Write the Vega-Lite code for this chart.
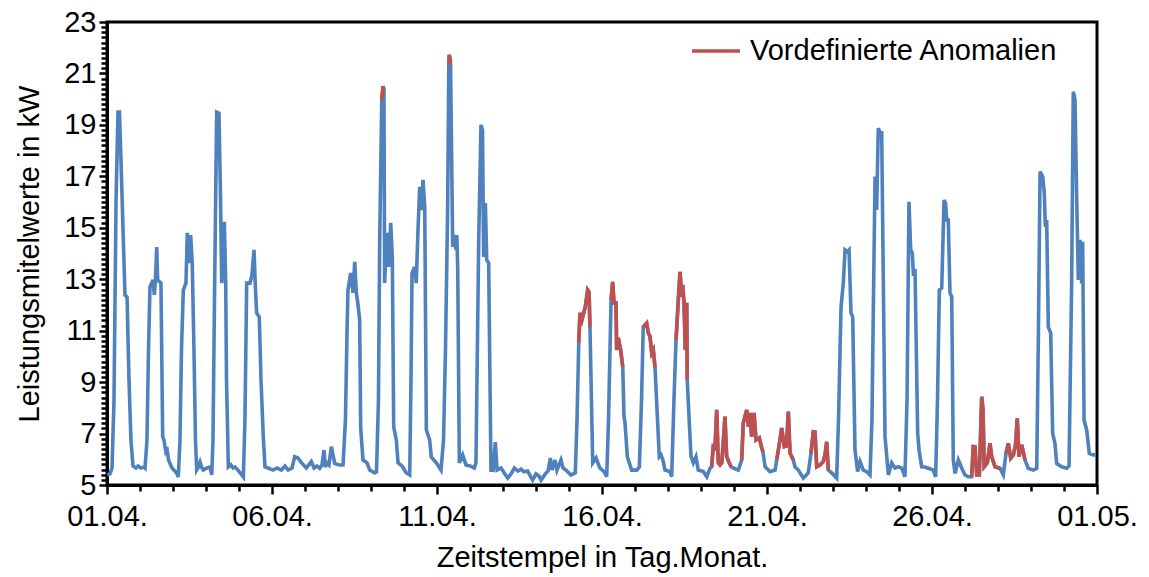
{
  "$schema": "https://vega.github.io/schema/vega-lite/v6.json",
  "width": 990,
  "height": 463,
  "autosize": "none",
  "padding": {"left": 107, "top": 22, "right": 52, "bottom": 92},
  "background": "white",
  "config": {"font": "Liberation Sans", "view": {"stroke": "black", "strokeWidth": 3}},
  "datasets": {
    "power": [
      {"t":"2021-04-01T00:15","p":5.39},{"t":"2021-04-01T02:10","p":5.43},{"t":"2021-04-01T03:40","p":5.66},{"t":"2021-04-01T05:05","p":8.30},{"t":"2021-04-01T06:35","p":16.08},{"t":"2021-04-01T08:00","p":19.50},{"t":"2021-04-01T09:05","p":19.50},{"t":"2021-04-01T10:10","p":17.64},{"t":"2021-04-01T11:40","p":14.91},{"t":"2021-04-01T13:05","p":12.39},{"t":"2021-04-01T14:35","p":12.31},{"t":"2021-04-01T16:00","p":9.08},{"t":"2021-04-01T17:25","p":6.75},{"t":"2021-04-01T18:55","p":5.74},{"t":"2021-04-01T21:05","p":5.66},{"t":"2021-04-01T22:35","p":5.74},
      {"t":"2021-04-02T00:45","p":5.66},{"t":"2021-04-02T02:55","p":5.70},{"t":"2021-04-02T03:40","p":5.66},{"t":"2021-04-02T05:05","p":6.75},{"t":"2021-04-02T06:10","p":10.25},{"t":"2021-04-02T07:15","p":12.70},{"t":"2021-04-02T09:25","p":12.97},{"t":"2021-04-02T10:25","p":12.39},{"t":"2021-04-02T11:15","p":12.97},{"t":"2021-04-02T12:10","p":14.25},{"t":"2021-04-02T12:50","p":12.97},{"t":"2021-04-02T15:15","p":12.85},{"t":"2021-04-02T16:30","p":6.87},{"t":"2021-04-02T17:25","p":6.75},{"t":"2021-04-02T18:35","p":6.36},{"t":"2021-04-02T19:25","p":6.48},{"t":"2021-04-02T20:45","p":5.97},{"t":"2021-04-02T23:15","p":5.66},
      {"t":"2021-04-03T02:40","p":5.47},{"t":"2021-04-03T03:50","p":5.31},{"t":"2021-04-03T05:05","p":6.75},{"t":"2021-04-03T06:10","p":10.25},{"t":"2021-04-03T07:30","p":12.58},{"t":"2021-04-03T09:25","p":12.85},{"t":"2021-04-03T10:25","p":14.80},{"t":"2021-04-03T11:15","p":13.75},{"t":"2021-04-03T11:50","p":13.63},{"t":"2021-04-03T12:50","p":14.72},{"t":"2021-04-03T14:00","p":13.63},{"t":"2021-04-03T15:15","p":10.25},{"t":"2021-04-03T16:20","p":6.75},{"t":"2021-04-03T17:15","p":5.58},{"t":"2021-04-03T18:10","p":5.66},{"t":"2021-04-03T19:40","p":5.89},{"t":"2021-04-03T20:45","p":5.70},{"t":"2021-04-03T22:00","p":5.58},
      {"t":"2021-04-04T00:45","p":5.66},{"t":"2021-04-04T02:55","p":5.70},{"t":"2021-04-04T04:10","p":5.39},{"t":"2021-04-04T05:05","p":6.75},{"t":"2021-04-04T06:10","p":12.19},{"t":"2021-04-04T07:45","p":19.50},{"t":"2021-04-04T09:25","p":19.46},{"t":"2021-04-04T10:35","p":16.08},{"t":"2021-04-04T11:25","p":12.85},{"t":"2021-04-04T12:20","p":13.36},{"t":"2021-04-04T13:20","p":15.23},{"t":"2021-04-04T14:20","p":12.85},{"t":"2021-04-04T14:55","p":9.08},{"t":"2021-04-04T16:15","p":5.70},{"t":"2021-04-04T18:10","p":5.78},{"t":"2021-04-04T19:40","p":5.66},{"t":"2021-04-04T21:05","p":5.70},{"t":"2021-04-04T23:15","p":5.58},
      {"t":"2021-04-05T01:25","p":5.43},{"t":"2021-04-05T03:10","p":5.31},{"t":"2021-04-05T04:20","p":7.53},{"t":"2021-04-05T05:35","p":12.85},{"t":"2021-04-05T08:00","p":12.85},{"t":"2021-04-05T09:25","p":13.16},{"t":"2021-04-05T10:55","p":14.14},{"t":"2021-04-05T12:00","p":12.58},{"t":"2021-04-05T12:50","p":11.69},{"t":"2021-04-05T14:45","p":11.53},{"t":"2021-04-05T16:00","p":9.08},{"t":"2021-04-05T17:40","p":6.87},{"t":"2021-04-05T18:55","p":5.70},{"t":"2021-04-05T21:05","p":5.66},
      {"t":"2021-04-06T00:45","p":5.58},{"t":"2021-04-06T03:40","p":5.66},{"t":"2021-04-06T06:45","p":5.58},{"t":"2021-04-06T09:25","p":5.74},{"t":"2021-04-06T11:40","p":5.58},{"t":"2021-04-06T14:35","p":5.66},{"t":"2021-04-06T16:30","p":6.10},{"t":"2021-04-06T18:55","p":6.05},{"t":"2021-04-06T21:05","p":5.89},
      {"t":"2021-04-07T00:55","p":5.66},{"t":"2021-04-07T04:35","p":5.91},{"t":"2021-04-07T06:35","p":5.66},{"t":"2021-04-07T08:45","p":5.74},{"t":"2021-04-07T10:40","p":5.65},{"t":"2021-04-07T12:20","p":5.78},{"t":"2021-04-07T13:50","p":6.36},{"t":"2021-04-07T14:45","p":5.70},{"t":"2021-04-07T16:00","p":5.86},{"t":"2021-04-07T17:25","p":5.78},{"t":"2021-04-07T19:10","p":6.49},{"t":"2021-04-07T21:35","p":5.84},
      {"t":"2021-04-08T00:45","p":5.78},{"t":"2021-04-08T03:40","p":5.78},{"t":"2021-04-08T05:25","p":7.53},{"t":"2021-04-08T06:35","p":11.03},{"t":"2021-04-08T07:15","p":12.58},{"t":"2021-04-08T09:15","p":13.24},{"t":"2021-04-08T10:55","p":12.47},{"t":"2021-04-08T12:10","p":13.68},{"t":"2021-04-08T13:20","p":12.47},{"t":"2021-04-08T14:35","p":12.00},{"t":"2021-04-08T15:45","p":11.42},{"t":"2021-04-08T16:30","p":7.22},{"t":"2021-04-08T18:10","p":5.97},{"t":"2021-04-08T21:05","p":5.86},{"t":"2021-04-08T23:05","p":5.58},
      {"t":"2021-04-09T02:40","p":5.47},{"t":"2021-04-09T04:00","p":5.51},{"t":"2021-04-09T05:25","p":8.30},{"t":"2021-04-09T06:20","p":14.53},{"t":"2021-04-09T07:50","p":19.97},{"t":"2021-04-09T08:45","p":20.51},{"t":"2021-04-09T09:25","p":20.36},{"t":"2021-04-09T09:55","p":12.85},{"t":"2021-04-09T11:25","p":14.80},{"t":"2021-04-09T12:50","p":13.48},{"t":"2021-04-09T14:20","p":15.19},{"t":"2021-04-09T15:30","p":13.86},{"t":"2021-04-09T16:30","p":7.26},{"t":"2021-04-09T18:25","p":6.75},{"t":"2021-04-09T19:40","p":5.86},{"t":"2021-04-09T22:35","p":5.74},
      {"t":"2021-04-10T01:40","p":5.47},{"t":"2021-04-10T04:10","p":5.39},{"t":"2021-04-10T05:05","p":9.08},{"t":"2021-04-10T05:50","p":13.24},{"t":"2021-04-10T07:45","p":13.48},{"t":"2021-04-10T08:55","p":12.85},{"t":"2021-04-10T10:10","p":14.91},{"t":"2021-04-10T11:25","p":16.59},{"t":"2021-04-10T12:35","p":15.69},{"t":"2021-04-10T13:50","p":16.86},{"t":"2021-04-10T15:05","p":15.81},{"t":"2021-04-10T16:15","p":7.14},{"t":"2021-04-10T18:40","p":6.75},{"t":"2021-04-10T19:50","p":6.09},{"t":"2021-04-10T23:30","p":5.86},
      {"t":"2021-04-11T02:55","p":5.58},{"t":"2021-04-11T04:45","p":6.75},{"t":"2021-04-11T06:10","p":10.25},{"t":"2021-04-11T07:45","p":15.81},{"t":"2021-04-11T08:35","p":21.33},{"t":"2021-04-11T08:55","p":21.72},{"t":"2021-04-11T09:50","p":21.45},{"t":"2021-04-11T10:35","p":18.02},{"t":"2021-04-11T11:25","p":14.25},{"t":"2021-04-11T12:35","p":14.72},{"t":"2021-04-11T13:50","p":14.14},{"t":"2021-04-11T14:25","p":14.72},{"t":"2021-04-11T15:05","p":13.36},{"t":"2021-04-11T16:15","p":5.86},{"t":"2021-04-11T18:40","p":6.17},{"t":"2021-04-11T21:05","p":5.78},
      {"t":"2021-04-12T00:00","p":5.74},{"t":"2021-04-12T03:10","p":5.66},{"t":"2021-04-12T04:20","p":5.86},{"t":"2021-04-12T06:20","p":14.53},{"t":"2021-04-12T08:00","p":19.00},{"t":"2021-04-12T09:05","p":18.80},{"t":"2021-04-12T09:55","p":13.86},{"t":"2021-04-12T11:10","p":15.96},{"t":"2021-04-12T12:10","p":13.75},{"t":"2021-04-12T13:35","p":13.63},{"t":"2021-04-12T15:15","p":5.58},{"t":"2021-04-12T16:45","p":5.58},{"t":"2021-04-12T18:25","p":6.67},{"t":"2021-04-12T19:40","p":5.58},{"t":"2021-04-12T22:35","p":5.66},
      {"t":"2021-04-13T00:55","p":5.47},{"t":"2021-04-13T03:25","p":5.27},{"t":"2021-04-13T05:50","p":5.43},{"t":"2021-04-13T08:15","p":5.66},{"t":"2021-04-13T10:55","p":5.54},{"t":"2021-04-13T13:05","p":5.62},{"t":"2021-04-13T15:15","p":5.51},{"t":"2021-04-13T17:55","p":5.54},{"t":"2021-04-13T21:35","p":5.19},
      {"t":"2021-04-14T00:00","p":5.43},{"t":"2021-04-14T02:10","p":5.35},{"t":"2021-04-14T03:40","p":5.19},{"t":"2021-04-14T07:15","p":5.47},{"t":"2021-04-14T08:45","p":5.54},{"t":"2021-04-14T10:25","p":6.05},{"t":"2021-04-14T11:40","p":5.58},{"t":"2021-04-14T13:50","p":5.97},{"t":"2021-04-14T15:15","p":5.58},{"t":"2021-04-14T18:10","p":5.97},{"t":"2021-04-14T19:40","p":5.66},{"t":"2021-04-14T22:35","p":5.54},
      {"t":"2021-04-15T01:25","p":5.39},{"t":"2021-04-15T04:35","p":5.47},{"t":"2021-04-15T05:50","p":7.53},{"t":"2021-04-15T07:05","p":10.52},{"t":"2021-04-15T08:00","p":11.69},{"t":"2021-04-15T09:25","p":11.42},{"t":"2021-04-15T11:50","p":11.92},{"t":"2021-04-15T13:35","p":12.58},{"t":"2021-04-15T14:35","p":12.50},{"t":"2021-04-15T15:15","p":11.14},{"t":"2021-04-15T17:15","p":5.86},{"t":"2021-04-15T19:40","p":6.05},{"t":"2021-04-15T21:50","p":5.74},{"t":"2021-04-15T22:35","p":5.66},
      {"t":"2021-04-16T01:40","p":5.51},{"t":"2021-04-16T03:25","p":5.32},{"t":"2021-04-16T04:45","p":7.53},{"t":"2021-04-16T06:35","p":12.19},{"t":"2021-04-16T07:45","p":12.90},{"t":"2021-04-16T08:45","p":12.08},{"t":"2021-04-16T10:10","p":12.08},{"t":"2021-04-16T10:40","p":10.25},{"t":"2021-04-16T11:50","p":10.72},{"t":"2021-04-16T13:35","p":10.25},{"t":"2021-04-16T15:05","p":9.60},{"t":"2021-04-16T16:00","p":7.66},{"t":"2021-04-16T16:45","p":7.41},{"t":"2021-04-16T18:25","p":6.10},{"t":"2021-04-16T21:35","p":5.58},
      {"t":"2021-04-17T01:15","p":5.58},{"t":"2021-04-17T03:10","p":5.70},{"t":"2021-04-17T04:45","p":8.30},{"t":"2021-04-17T06:00","p":11.15},{"t":"2021-04-17T08:30","p":11.29},{"t":"2021-04-17T09:40","p":10.91},{"t":"2021-04-17T10:55","p":10.77},{"t":"2021-04-17T12:10","p":10.13},{"t":"2021-04-17T13:20","p":10.25},{"t":"2021-04-17T14:35","p":9.55},{"t":"2021-04-17T16:15","p":7.66},{"t":"2021-04-17T17:40","p":6.10},{"t":"2021-04-17T18:55","p":6.17},{"t":"2021-04-17T20:35","p":5.91},{"t":"2021-04-17T21:50","p":5.58},
      {"t":"2021-04-18T01:25","p":5.52},{"t":"2021-04-18T02:40","p":5.32},{"t":"2021-04-18T04:20","p":8.30},{"t":"2021-04-18T05:50","p":10.64},{"t":"2021-04-18T07:30","p":12.19},{"t":"2021-04-18T08:45","p":13.29},{"t":"2021-04-18T09:55","p":12.32},{"t":"2021-04-18T10:40","p":12.78},{"t":"2021-04-18T11:40","p":12.08},{"t":"2021-04-18T12:35","p":10.25},{"t":"2021-04-18T13:35","p":12.08},{"t":"2021-04-18T14:00","p":9.08},{"t":"2021-04-18T15:30","p":7.41},{"t":"2021-04-18T16:45","p":6.10},{"t":"2021-04-18T18:25","p":5.86},{"t":"2021-04-18T20:20","p":6.10},{"t":"2021-04-18T22:00","p":5.58},
      {"t":"2021-04-19T01:40","p":5.52},{"t":"2021-04-19T04:10","p":5.32},{"t":"2021-04-19T06:35","p":5.66},{"t":"2021-04-19T07:45","p":5.71},{"t":"2021-04-19T08:55","p":6.49},{"t":"2021-04-19T10:10","p":6.44},{"t":"2021-04-19T11:25","p":7.92},{"t":"2021-04-19T12:35","p":5.86},{"t":"2021-04-19T13:50","p":5.78},{"t":"2021-04-19T15:05","p":5.86},{"t":"2021-04-19T16:20","p":6.75},{"t":"2021-04-19T17:25","p":7.66},{"t":"2021-04-19T18:40","p":6.10},{"t":"2021-04-19T20:20","p":5.89},{"t":"2021-04-19T21:50","p":5.71},{"t":"2021-04-19T23:30","p":5.66},
      {"t":"2021-04-20T03:10","p":5.58},{"t":"2021-04-20T05:35","p":5.97},{"t":"2021-04-20T06:45","p":7.41},{"t":"2021-04-20T09:15","p":7.92},{"t":"2021-04-20T10:25","p":7.27},{"t":"2021-04-20T11:40","p":7.80},{"t":"2021-04-20T12:50","p":6.88},{"t":"2021-04-20T14:35","p":7.80},{"t":"2021-04-20T16:00","p":6.75},{"t":"2021-04-20T18:25","p":6.83},{"t":"2021-04-20T20:10","p":6.44},{"t":"2021-04-20T21:05","p":6.28},{"t":"2021-04-20T22:35","p":5.71},
      {"t":"2021-04-21T02:10","p":5.52},{"t":"2021-04-21T05:50","p":5.58},{"t":"2021-04-21T07:05","p":5.97},{"t":"2021-04-21T09:25","p":6.75},{"t":"2021-04-21T10:40","p":7.22},{"t":"2021-04-21T12:35","p":6.49},{"t":"2021-04-21T14:10","p":6.52},{"t":"2021-04-21T15:30","p":7.85},{"t":"2021-04-21T16:45","p":6.24},{"t":"2021-04-21T19:10","p":5.97},{"t":"2021-04-21T20:20","p":5.71},{"t":"2021-04-21T22:45","p":5.58},
      {"t":"2021-04-22T02:25","p":5.27},{"t":"2021-04-22T06:00","p":5.47},{"t":"2021-04-22T08:00","p":6.24},{"t":"2021-04-22T09:40","p":7.07},{"t":"2021-04-22T10:55","p":7.06},{"t":"2021-04-22T12:10","p":5.71},{"t":"2021-04-22T14:35","p":5.78},{"t":"2021-04-22T16:55","p":5.91},{"t":"2021-04-22T18:10","p":6.17},{"t":"2021-04-22T19:25","p":6.68},{"t":"2021-04-22T20:35","p":5.58},{"t":"2021-04-22T23:05","p":5.47},
      {"t":"2021-04-23T02:40","p":5.27},{"t":"2021-04-23T04:00","p":7.53},{"t":"2021-04-23T05:50","p":11.93},{"t":"2021-04-23T07:30","p":12.85},{"t":"2021-04-23T08:45","p":14.14},{"t":"2021-04-23T10:25","p":14.07},{"t":"2021-04-23T11:40","p":14.14},{"t":"2021-04-23T13:05","p":11.69},{"t":"2021-04-23T14:20","p":11.54},{"t":"2021-04-23T16:00","p":6.36},{"t":"2021-04-23T17:55","p":5.52},{"t":"2021-04-23T19:40","p":5.91},{"t":"2021-04-23T22:00","p":5.58},
      {"t":"2021-04-24T00:45","p":5.51},{"t":"2021-04-24T02:55","p":5.39},{"t":"2021-04-24T04:20","p":7.53},{"t":"2021-04-24T05:25","p":12.19},{"t":"2021-04-24T06:35","p":16.99},{"t":"2021-04-24T07:45","p":15.69},{"t":"2021-04-24T08:55","p":18.87},{"t":"2021-04-24T10:10","p":18.69},{"t":"2021-04-24T11:25","p":18.69},{"t":"2021-04-24T12:45","p":12.19},{"t":"2021-04-24T13:50","p":6.88},{"t":"2021-04-24T16:15","p":5.39},{"t":"2021-04-24T18:40","p":5.86},{"t":"2021-04-24T21:05","p":5.66},{"t":"2021-04-24T23:30","p":5.71},
      {"t":"2021-04-25T02:00","p":5.66},{"t":"2021-04-25T04:20","p":5.32},{"t":"2021-04-25T05:50","p":8.30},{"t":"2021-04-25T07:15","p":16.01},{"t":"2021-04-25T08:30","p":14.14},{"t":"2021-04-25T09:40","p":14.01},{"t":"2021-04-25T10:25","p":13.24},{"t":"2021-04-25T11:40","p":13.29},{"t":"2021-04-25T13:35","p":7.01},{"t":"2021-04-25T14:35","p":6.36},{"t":"2021-04-25T16:30","p":5.71},{"t":"2021-04-25T18:55","p":5.70},{"t":"2021-04-25T21:20","p":5.65},
      {"t":"2021-04-26T00:55","p":5.58},{"t":"2021-04-26T02:40","p":5.32},{"t":"2021-04-26T04:00","p":8.30},{"t":"2021-04-26T05:20","p":12.58},{"t":"2021-04-26T07:05","p":12.66},{"t":"2021-04-26T08:45","p":16.08},{"t":"2021-04-26T09:50","p":15.96},{"t":"2021-04-26T10:40","p":15.30},{"t":"2021-04-26T11:50","p":15.30},{"t":"2021-04-26T13:05","p":12.47},{"t":"2021-04-26T14:20","p":12.32},{"t":"2021-04-26T15:30","p":5.97},{"t":"2021-04-26T16:45","p":5.45},{"t":"2021-04-26T19:10","p":5.97},{"t":"2021-04-26T21:35","p":5.66},
      {"t":"2021-04-27T00:00","p":5.39},{"t":"2021-04-27T02:25","p":5.32},{"t":"2021-04-27T04:50","p":5.32},{"t":"2021-04-27T06:00","p":6.49},{"t":"2021-04-27T07:15","p":6.48},{"t":"2021-04-27T08:30","p":5.39},{"t":"2021-04-27T10:25","p":5.39},{"t":"2021-04-27T12:10","p":8.43},{"t":"2021-04-27T13:05","p":7.92},{"t":"2021-04-27T14:00","p":5.71},{"t":"2021-04-27T16:15","p":5.86},{"t":"2021-04-27T18:10","p":6.62},{"t":"2021-04-27T19:25","p":6.10},{"t":"2021-04-27T21:50","p":5.71},
      {"t":"2021-04-28T01:25","p":5.65},{"t":"2021-04-28T03:50","p":5.39},{"t":"2021-04-28T05:50","p":6.23},{"t":"2021-04-28T07:30","p":6.62},{"t":"2021-04-28T09:15","p":6.04},{"t":"2021-04-28T11:10","p":6.17},{"t":"2021-04-28T12:45","p":6.56},{"t":"2021-04-28T14:00","p":7.59},{"t":"2021-04-28T15:15","p":6.10},{"t":"2021-04-28T17:15","p":6.56},{"t":"2021-04-28T19:40","p":5.97},{"t":"2021-04-28T22:00","p":5.65},
      {"t":"2021-04-29T01:40","p":5.58},{"t":"2021-04-29T04:10","p":5.65},{"t":"2021-04-29T05:25","p":11.03},{"t":"2021-04-29T06:35","p":17.18},{"t":"2021-04-29T08:30","p":16.99},{"t":"2021-04-29T09:40","p":16.35},{"t":"2021-04-29T10:25","p":15.04},{"t":"2021-04-29T11:25","p":15.30},{"t":"2021-04-29T12:35","p":11.15},{"t":"2021-04-29T14:20","p":10.90},{"t":"2021-04-29T15:45","p":7.01},{"t":"2021-04-29T17:25","p":6.62},{"t":"2021-04-29T18:40","p":5.84},{"t":"2021-04-29T22:20","p":5.71},
      {"t":"2021-04-30T02:00","p":5.65},{"t":"2021-04-30T03:40","p":5.74},{"t":"2021-04-30T05:35","p":12.97},{"t":"2021-04-30T06:45","p":20.29},{"t":"2021-04-30T08:00","p":19.97},{"t":"2021-04-30T09:15","p":16.08},{"t":"2021-04-30T10:25","p":12.97},{"t":"2021-04-30T11:40","p":14.53},{"t":"2021-04-30T12:50","p":12.84},{"t":"2021-04-30T13:35","p":14.46},{"t":"2021-04-30T14:35","p":7.53},{"t":"2021-04-30T16:30","p":7.14},{"t":"2021-04-30T18:25","p":6.23},{"t":"2021-04-30T21:20","p":6.17},{"t":"2021-04-30T23:15","p":6.17}
    ],
    "anom": [
      {"t":"2021-04-09T07:50","p":19.97,"seg":1,"reihe":"Vordefinierte Anomalien"},{"t":"2021-04-09T08:45","p":20.51,"seg":1,"reihe":"Vordefinierte Anomalien"},{"t":"2021-04-09T09:25","p":20.36,"seg":1,"reihe":"Vordefinierte Anomalien"},
      {"t":"2021-04-11T08:35","p":21.33,"seg":2,"reihe":"Vordefinierte Anomalien"},{"t":"2021-04-11T08:55","p":21.72,"seg":2,"reihe":"Vordefinierte Anomalien"},{"t":"2021-04-11T09:50","p":21.45,"seg":2,"reihe":"Vordefinierte Anomalien"},
      {"t":"2021-04-15T07:05","p":10.52,"seg":3,"reihe":"Vordefinierte Anomalien"},{"t":"2021-04-15T08:00","p":11.69,"seg":3,"reihe":"Vordefinierte Anomalien"},{"t":"2021-04-15T09:25","p":11.42,"seg":3,"reihe":"Vordefinierte Anomalien"},{"t":"2021-04-15T11:50","p":11.92,"seg":3,"reihe":"Vordefinierte Anomalien"},{"t":"2021-04-15T13:35","p":12.58,"seg":3,"reihe":"Vordefinierte Anomalien"},{"t":"2021-04-15T14:35","p":12.50,"seg":3,"reihe":"Vordefinierte Anomalien"},{"t":"2021-04-15T15:15","p":11.14,"seg":3,"reihe":"Vordefinierte Anomalien"},
      {"t":"2021-04-16T06:35","p":12.19,"seg":4,"reihe":"Vordefinierte Anomalien"},{"t":"2021-04-16T07:45","p":12.90,"seg":4,"reihe":"Vordefinierte Anomalien"},{"t":"2021-04-16T08:45","p":12.08,"seg":4,"reihe":"Vordefinierte Anomalien"},{"t":"2021-04-16T10:10","p":12.08,"seg":4,"reihe":"Vordefinierte Anomalien"},{"t":"2021-04-16T10:40","p":10.25,"seg":4,"reihe":"Vordefinierte Anomalien"},{"t":"2021-04-16T11:50","p":10.72,"seg":4,"reihe":"Vordefinierte Anomalien"},{"t":"2021-04-16T13:35","p":10.25,"seg":4,"reihe":"Vordefinierte Anomalien"},{"t":"2021-04-16T15:05","p":9.60,"seg":4,"reihe":"Vordefinierte Anomalien"},
      {"t":"2021-04-17T06:00","p":11.15,"seg":5,"reihe":"Vordefinierte Anomalien"},{"t":"2021-04-17T08:30","p":11.29,"seg":5,"reihe":"Vordefinierte Anomalien"},{"t":"2021-04-17T09:40","p":10.91,"seg":5,"reihe":"Vordefinierte Anomalien"},{"t":"2021-04-17T10:55","p":10.77,"seg":5,"reihe":"Vordefinierte Anomalien"},{"t":"2021-04-17T12:10","p":10.13,"seg":5,"reihe":"Vordefinierte Anomalien"},{"t":"2021-04-17T13:20","p":10.25,"seg":5,"reihe":"Vordefinierte Anomalien"},{"t":"2021-04-17T14:35","p":9.55,"seg":5,"reihe":"Vordefinierte Anomalien"},
      {"t":"2021-04-18T05:50","p":10.64,"seg":6,"reihe":"Vordefinierte Anomalien"},{"t":"2021-04-18T07:30","p":12.19,"seg":6,"reihe":"Vordefinierte Anomalien"},{"t":"2021-04-18T08:45","p":13.29,"seg":6,"reihe":"Vordefinierte Anomalien"},{"t":"2021-04-18T09:55","p":12.32,"seg":6,"reihe":"Vordefinierte Anomalien"},{"t":"2021-04-18T10:40","p":12.78,"seg":6,"reihe":"Vordefinierte Anomalien"},{"t":"2021-04-18T11:40","p":12.08,"seg":6,"reihe":"Vordefinierte Anomalien"},{"t":"2021-04-18T12:35","p":10.25,"seg":6,"reihe":"Vordefinierte Anomalien"},{"t":"2021-04-18T13:35","p":12.08,"seg":6,"reihe":"Vordefinierte Anomalien"},{"t":"2021-04-18T14:00","p":9.08,"seg":6,"reihe":"Vordefinierte Anomalien"},
      {"t":"2021-04-19T07:45","p":5.71,"seg":7,"reihe":"Vordefinierte Anomalien"},{"t":"2021-04-19T08:55","p":6.49,"seg":7,"reihe":"Vordefinierte Anomalien"},{"t":"2021-04-19T10:10","p":6.44,"seg":7,"reihe":"Vordefinierte Anomalien"},{"t":"2021-04-19T11:25","p":7.92,"seg":7,"reihe":"Vordefinierte Anomalien"},{"t":"2021-04-19T12:35","p":5.86,"seg":7,"reihe":"Vordefinierte Anomalien"},{"t":"2021-04-19T13:50","p":5.78,"seg":7,"reihe":"Vordefinierte Anomalien"},{"t":"2021-04-19T15:05","p":5.86,"seg":7,"reihe":"Vordefinierte Anomalien"},{"t":"2021-04-19T16:20","p":6.75,"seg":7,"reihe":"Vordefinierte Anomalien"},{"t":"2021-04-19T17:25","p":7.66,"seg":7,"reihe":"Vordefinierte Anomalien"},{"t":"2021-04-19T18:40","p":6.10,"seg":7,"reihe":"Vordefinierte Anomalien"},{"t":"2021-04-19T20:20","p":5.89,"seg":7,"reihe":"Vordefinierte Anomalien"},{"t":"2021-04-19T21:50","p":5.71,"seg":7,"reihe":"Vordefinierte Anomalien"},
      {"t":"2021-04-20T05:35","p":5.97,"seg":8,"reihe":"Vordefinierte Anomalien"},{"t":"2021-04-20T06:45","p":7.41,"seg":8,"reihe":"Vordefinierte Anomalien"},{"t":"2021-04-20T09:15","p":7.92,"seg":8,"reihe":"Vordefinierte Anomalien"},{"t":"2021-04-20T10:25","p":7.27,"seg":8,"reihe":"Vordefinierte Anomalien"},{"t":"2021-04-20T11:40","p":7.80,"seg":8,"reihe":"Vordefinierte Anomalien"},{"t":"2021-04-20T12:50","p":6.88,"seg":8,"reihe":"Vordefinierte Anomalien"},{"t":"2021-04-20T14:35","p":7.80,"seg":8,"reihe":"Vordefinierte Anomalien"},{"t":"2021-04-20T16:00","p":6.75,"seg":8,"reihe":"Vordefinierte Anomalien"},{"t":"2021-04-20T18:25","p":6.83,"seg":8,"reihe":"Vordefinierte Anomalien"},{"t":"2021-04-20T20:10","p":6.44,"seg":8,"reihe":"Vordefinierte Anomalien"},{"t":"2021-04-20T21:05","p":6.28,"seg":8,"reihe":"Vordefinierte Anomalien"},
      {"t":"2021-04-21T07:05","p":5.97,"seg":9,"reihe":"Vordefinierte Anomalien"},{"t":"2021-04-21T09:25","p":6.75,"seg":9,"reihe":"Vordefinierte Anomalien"},{"t":"2021-04-21T10:40","p":7.22,"seg":9,"reihe":"Vordefinierte Anomalien"},{"t":"2021-04-21T12:35","p":6.49,"seg":9,"reihe":"Vordefinierte Anomalien"},{"t":"2021-04-21T14:10","p":6.52,"seg":9,"reihe":"Vordefinierte Anomalien"},{"t":"2021-04-21T15:30","p":7.85,"seg":9,"reihe":"Vordefinierte Anomalien"},{"t":"2021-04-21T16:45","p":6.24,"seg":9,"reihe":"Vordefinierte Anomalien"},{"t":"2021-04-21T19:10","p":5.97,"seg":9,"reihe":"Vordefinierte Anomalien"},
      {"t":"2021-04-22T08:00","p":6.24,"seg":10,"reihe":"Vordefinierte Anomalien"},{"t":"2021-04-22T09:40","p":7.07,"seg":10,"reihe":"Vordefinierte Anomalien"},{"t":"2021-04-22T10:55","p":7.06,"seg":10,"reihe":"Vordefinierte Anomalien"},{"t":"2021-04-22T12:10","p":5.71,"seg":10,"reihe":"Vordefinierte Anomalien"},{"t":"2021-04-22T14:35","p":5.78,"seg":10,"reihe":"Vordefinierte Anomalien"},{"t":"2021-04-22T16:55","p":5.91,"seg":10,"reihe":"Vordefinierte Anomalien"},{"t":"2021-04-22T18:10","p":6.17,"seg":10,"reihe":"Vordefinierte Anomalien"},{"t":"2021-04-22T19:25","p":6.68,"seg":10,"reihe":"Vordefinierte Anomalien"},{"t":"2021-04-22T20:35","p":5.58,"seg":10,"reihe":"Vordefinierte Anomalien"},
      {"t":"2021-04-27T04:50","p":5.32,"seg":11,"reihe":"Vordefinierte Anomalien"},{"t":"2021-04-27T06:00","p":6.49,"seg":11,"reihe":"Vordefinierte Anomalien"},{"t":"2021-04-27T07:15","p":6.48,"seg":11,"reihe":"Vordefinierte Anomalien"},{"t":"2021-04-27T08:30","p":5.39,"seg":11,"reihe":"Vordefinierte Anomalien"},{"t":"2021-04-27T10:25","p":5.39,"seg":11,"reihe":"Vordefinierte Anomalien"},{"t":"2021-04-27T12:10","p":8.43,"seg":11,"reihe":"Vordefinierte Anomalien"},{"t":"2021-04-27T13:05","p":7.92,"seg":11,"reihe":"Vordefinierte Anomalien"},{"t":"2021-04-27T14:00","p":5.71,"seg":11,"reihe":"Vordefinierte Anomalien"},{"t":"2021-04-27T16:15","p":5.86,"seg":11,"reihe":"Vordefinierte Anomalien"},{"t":"2021-04-27T18:10","p":6.62,"seg":11,"reihe":"Vordefinierte Anomalien"},{"t":"2021-04-27T19:25","p":6.10,"seg":11,"reihe":"Vordefinierte Anomalien"},{"t":"2021-04-27T21:50","p":5.71,"seg":11,"reihe":"Vordefinierte Anomalien"},{"t":"2021-04-28T01:25","p":5.65,"seg":11,"reihe":"Vordefinierte Anomalien"},
      {"t":"2021-04-28T05:50","p":6.23,"seg":12,"reihe":"Vordefinierte Anomalien"},{"t":"2021-04-28T07:30","p":6.62,"seg":12,"reihe":"Vordefinierte Anomalien"},{"t":"2021-04-28T09:15","p":6.04,"seg":12,"reihe":"Vordefinierte Anomalien"},{"t":"2021-04-28T11:10","p":6.17,"seg":12,"reihe":"Vordefinierte Anomalien"},{"t":"2021-04-28T12:45","p":6.56,"seg":12,"reihe":"Vordefinierte Anomalien"},{"t":"2021-04-28T14:00","p":7.59,"seg":12,"reihe":"Vordefinierte Anomalien"},{"t":"2021-04-28T15:15","p":6.10,"seg":12,"reihe":"Vordefinierte Anomalien"},{"t":"2021-04-28T17:15","p":6.56,"seg":12,"reihe":"Vordefinierte Anomalien"},{"t":"2021-04-28T19:40","p":5.97,"seg":12,"reihe":"Vordefinierte Anomalien"}
    ]
  },
  "encoding": {
    "x": {
      "field": "t", "type": "temporal",
      "scale": {"domain": [{"year": 2021, "month": 4, "date": 1}, {"year": 2021, "month": 5, "date": 1}], "nice": false},
      "axis": {
        "title": "Zeitstempel in Tag.Monat.",
        "tickCount": {"interval": "day", "step": 1},
        "labelExpr": "date(datum.value) % 5 == 1 ? timeFormat(datum.value, '%d.%m.') : ''",
        "tickSize": {"condition": {"test": "date(datum.value) % 5 == 1", "value": 9}, "value": 6},
        "tickWidth": 2.5, "tickColor": "black",
        "domainColor": "black", "domainWidth": 3,
        "labelFontSize": 29, "labelColor": "black", "labelPadding": 8,
        "labelOverlap": false, "labelFlush": false, "labelBound": false,
        "grid": false,
        "titleFontSize": 29, "titleFontWeight": "normal", "titleColor": "black", "titlePadding": 12
      }
    },
    "y": {
      "field": "p", "type": "quantitative",
      "scale": {"domain": [5, 23], "nice": false, "zero": false},
      "axis": {
        "title": "Leistungsmitelwerte in kW",
        "values": [5,5.2,5.4,5.6,5.8,6,6.2,6.4,6.6,6.8,7,7.2,7.4,7.6,7.8,8,8.2,8.4,8.6,8.8,9,9.2,9.4,9.6,9.8,10,10.2,10.4,10.6,10.8,11,11.2,11.4,11.6,11.8,12,12.2,12.4,12.6,12.8,13,13.2,13.4,13.6,13.8,14,14.2,14.4,14.6,14.8,15,15.2,15.4,15.6,15.8,16,16.2,16.4,16.6,16.8,17,17.2,17.4,17.6,17.8,18,18.2,18.4,18.6,18.8,19,19.2,19.4,19.6,19.8,20,20.2,20.4,20.6,20.8,21,21.2,21.4,21.6,21.8,22,22.2,22.4,22.6,22.8,23],
        "labelExpr": "(abs(datum.value - round(datum.value)) < 0.001 && round(datum.value) % 2 == 1) ? format(round(datum.value), 'd') : ''",
        "tickSize": {"condition": {"test": "abs(datum.value - round(datum.value)) < 0.001 && round(datum.value) % 2 == 1", "value": 8}, "value": 6},
        "tickWidth": 2.5, "tickColor": "black",
        "domainColor": "black", "domainWidth": 3,
        "labelFontSize": 29, "labelColor": "black", "labelPadding": 3,
        "labelOverlap": false, "labelBound": false, "labelFlush": false,
        "grid": false,
        "titleFontSize": 29, "titleFontWeight": "normal", "titleColor": "black", "titlePadding": 19
      }
    }
  },
  "layer": [
    {"data": {"name": "power"}, "mark": {"type": "line", "color": "#4F81BD", "strokeWidth": 3.6}},
    {
      "data": {"name": "anom"},
      "mark": {"type": "line", "strokeWidth": 3.6},
      "encoding": {
        "detail": {"field": "seg", "type": "nominal"},
        "color": {
          "field": "reihe", "type": "nominal",
          "scale": {"range": ["#C0504D"]},
          "legend": {
            "title": null, "orient": "none", "legendX": 583, "legendY": 3,
            "symbolType": "stroke", "symbolSize": 2304, "symbolStrokeWidth": 3.5,
            "labelFontSize": 29, "labelColor": "black", "labelOffset": 8, "padding": 0, "labelLimit": 500
          }
        }
      }
    }
  ]
}
